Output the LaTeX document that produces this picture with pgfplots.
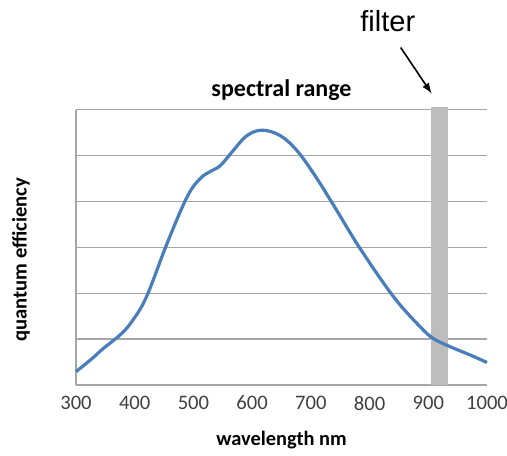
\documentclass[border=0pt]{standalone}
\usepackage{pgfplots}
\pgfplotsset{compat=1.18}
\usepackage{fontspec}
\setmainfont{Carlito}
\newfontfamily\arialfont{Liberation Sans}
\definecolor{qeBlue}{HTML}{4A7EBB}
\definecolor{gridGrey}{HTML}{A6A6A6}
\definecolor{barGrey}{HTML}{BDBDBD}
\definecolor{tickInk}{HTML}{404040}

\begin{document}
\begin{tikzpicture}
\useasboundingbox (-38pt,-35pt) rectangle (215.5pt,192.5pt);
\begin{axis}[
  at={(0,0)}, anchor=south west,
  scale only axis, width=205.5pt, height=137.75pt,
  xmin=300, xmax=1000, ymin=0, ymax=6,
  xtick={300,400,...,1000},
  ytick={0,1,...,6}, yticklabels={},
  ymajorgrids, grid style={gridGrey, line width=0.6pt},
  major tick length=0pt,
  axis x line*=bottom, axis y line*=left,
  axis line style={gridGrey, line width=0.6pt, -},
  x tick label style={font=\fontsize{10.3}{12}\selectfont\color{tickInk}, yshift=-2pt},
  /pgf/number format/assume math mode=true,
  /pgf/number format/1000 sep={},
  xlabel={wavelength nm},
  xlabel style={font=\fontsize{10.2}{12}\selectfont\bfseries, at={(axis description cs:0.5,-0.2)}, anchor=center},
  ylabel={quantum efficiency},
  ylabel style={font=\fontsize{10.3}{12}\selectfont\bfseries, at={(axis description cs:-0.134,0.455)}, anchor=center, rotate=0},
  title={spectral range},
  title style={font=\fontsize{12}{14}\selectfont\bfseries, at={(axis description cs:0.5,1.074)}, anchor=center, yshift=-6.5pt},
  clip=false,
]
\addplot[draw=none, fill=barGrey] coordinates {(905,0) (933,0) (933,6.06) (905,6.06)} -- cycle;
\addplot[qeBlue, line width=1.6pt, smooth, tension=0.6] coordinates {
  (300,0.29) (325,0.55) (347,0.80) (375,1.09) (395,1.38) (420,1.92)
  (455,3.08) (489,4.09) (511,4.49) (530,4.66) (546,4.78) (568,5.11)
  (591,5.43) (617,5.55) (648,5.43) (676,5.11) (705,4.60) (739,3.91)
  (784,2.97) (841,1.92) (886,1.27) (909,1.01) (938,0.83) (972,0.65)
  (1000,0.49)
};
\node[font=\arialfont\fontsize{14.5}{16}\selectfont, anchor=center] at (axis cs:831,7.93) {filter};
\draw[-latex, line width=0.8pt] (axis cs:853,7.35) -- (axis cs:905.6,6.35);
\end{axis}
\end{tikzpicture}
\end{document}
